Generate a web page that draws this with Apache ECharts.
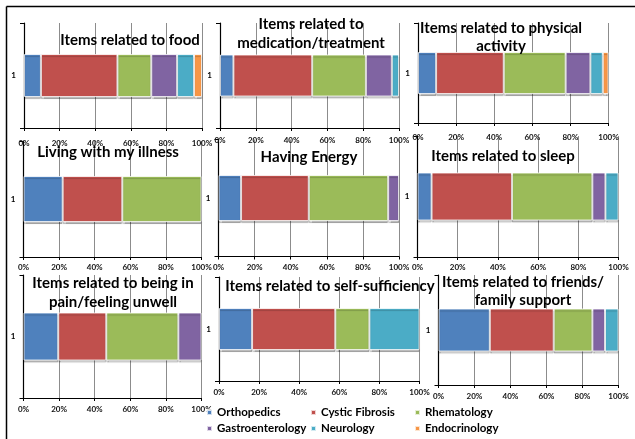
<!DOCTYPE html>
<html>
<head>
<meta charset="utf-8">
<script src="https://cdn.jsdelivr.net/npm/echarts@6/dist/echarts.min.js"></script>
<style>
  html, body { margin: 0; padding: 0; background: #fff; }
  #chart { width: 635px; height: 439px; }
</style>
</head>
<body>
<div id="chart"></div>
<script>
// Share of items per specialty (%), one entry per theme panel
const panelTitles = [
  'Items related to food',
  'Items related to\nmedication/treatment',
  'Items related to physical\nactivity',
  'Living with my illness',
  'Having Energy',
  'Items related to sleep',
  'Items related to being in\npain/feeling unwell',
  'Items related to self-sufficiency',
  'Items related to friends/\nfamily support'
];
const specialties = ['Orthopedics', 'Cystic Fibrosis', 'Rhematology', 'Gastroenterology', 'Neurology', 'Endocrinology'];
const orthopedics    = [9.5, 7.5, 9.5, 22, 12.5, 7, 19.5, 16.5, 28.5];
const cysticFibrosis = [43, 44, 35.5, 33.5, 37.5, 40, 27, 41.5, 35.5];
const rheumatology   = [19, 30, 32.5, 44.5, 44, 40, 40.5, 17, 21.5];
const gastro         = [14.5, 14.5, 13, 0, 6, 6.5, 13, 0, 7];
const neurology      = [9.5, 4, 6.5, 0, 0, 6.5, 0, 25, 7.5];
const endocrinology  = [4.5, 0, 3, 0, 0, 0, 0, 0, 0];
const categories = ['1'];
const xTicks = { min: 0, max: 100, interval: 20 };

const seriesValues = [orthopedics, cysticFibrosis, rheumatology, gastro, neurology, endocrinology];
const colors = ['#4F81BD', '#C0504D', '#9BBB59', '#8064A2', '#4BACC6', '#F79646'];

// Panel layout: plot box, bar thickness, tick-label offset, title anchor
const layout = [
  { left: 24,    top: 23,  width: 178,   height: 105, bar: 43, margin: 11, tx: 130, ty: 31 },
  { left: 220,   top: 23,  width: 179,   height: 105, bar: 42, margin: 8,  tx: 311, ty: 15 },
  { left: 418,   top: 23,  width: 190.5, height: 100, bar: 42, margin: 10, tx: 501, ty: 18.5 },
  { left: 23.5,  top: 141, width: 178,   height: 116, bar: 46, margin: 6,  tx: 108, ty: 142.5 },
  { left: 218.5, top: 139.5, width: 180.5, height: 117, bar: 46, margin: 6.5, tx: 309, ty: 148 },
  { left: 417.5, top: 136, width: 201,   height: 121, bar: 48, margin: 6,  tx: 503, ty: 147 },
  { left: 23.5,  top: 275, width: 178,   height: 123, bar: 48, margin: 7,  tx: 113, ty: 274 },
  { left: 219,   top: 277, width: 200.5, height: 104, bar: 42, margin: 7,  tx: 330, ty: 277 },
  { left: 438.5, top: 275, width: 180,   height: 110, bar: 43, margin: 7,  tx: 523, ty: 272.5 }
];

const FONT = 'Lato, "Liberation Sans", sans-serif';

const grid = [], xAxis = [], yAxis = [], series = [], title = [];

layout.forEach((p, i) => {
  grid.push({ left: p.left, top: p.top, width: p.width, height: p.height, containLabel: false });
  xAxis.push({
    type: 'value', gridIndex: i, min: xTicks.min, max: xTicks.max, interval: xTicks.interval,
    axisLine: { show: true, lineStyle: { color: '#000', width: 1.2 } },
    axisTick: { show: true, length: 3, lineStyle: { color: '#000' } },
    axisLabel: { formatter: '{value}%', fontSize: 8, fontWeight: 700, color: '#111', fontFamily: FONT, margin: p.margin },
    splitLine: { show: true, lineStyle: { color: '#8c8c8c', width: 1 } }
  });
  yAxis.push({
    type: 'category', gridIndex: i, data: categories,
    axisLine: { show: true, lineStyle: { color: '#000', width: 1.2 } },
    axisTick: { show: true, length: 4, lineStyle: { color: '#000' } },
    axisLabel: { fontSize: 8, fontWeight: 700, color: '#000', fontFamily: FONT, margin: 8 },
    splitLine: { show: false }
  });
  title.push({
    text: panelTitles[i], left: p.tx, top: p.ty, textAlign: 'center', padding: 0,
    textStyle: { fontSize: 15, fontWeight: 'bold', color: '#000', fontFamily: FONT, lineHeight: 18.5 }
  });
  specialties.forEach((name, s) => {
    const v = seriesValues[s][i];
    series.push({
      name: name, type: 'bar', stack: 'panel' + i,
      xAxisIndex: i, yAxisIndex: i, barWidth: p.bar,
      data: [v > 0 ? v : '-'],
      itemStyle: {
        color: colors[s], borderColor: 'rgba(255,255,255,0.75)', borderWidth: 1,
        shadowColor: 'rgba(0,0,0,0.25)', shadowOffsetY: 2, shadowBlur: 1
      },
      emphasis: { disabled: true },
      animation: false
    });
  });
});

// Legend: two rows of three fixed columns
const legendCols = [206, 310, 414];
const legendRows = [406.5, 422.5];
const legend = specialties.map((name, k) => ({
  data: [name], left: legendCols[k % 3], top: legendRows[Math.floor(k / 3)],
  padding: 0, itemWidth: 5, itemHeight: 5, icon: 'rect',
  textStyle: { fontSize: 11.5, fontWeight: 700, color: '#000', fontFamily: FONT },
  selectedMode: false
}));

const chart = echarts.init(document.getElementById('chart'), null, { renderer: 'canvas' });
chart.setOption({
  backgroundColor: '#fff',
  animation: false,
  title, grid, xAxis, yAxis, series, legend,
  graphic: [
    { type: 'line', shape: { x1: 6.5, y1: 6.5, x2: 635, y2: 6.5 }, style: { stroke: '#000', lineWidth: 1.5 }, silent: true },
    { type: 'line', shape: { x1: 6.5, y1: 6.5, x2: 6.5, y2: 439 }, style: { stroke: '#000', lineWidth: 1.5 }, silent: true }
  ]
});
</script>
</body>
</html>
